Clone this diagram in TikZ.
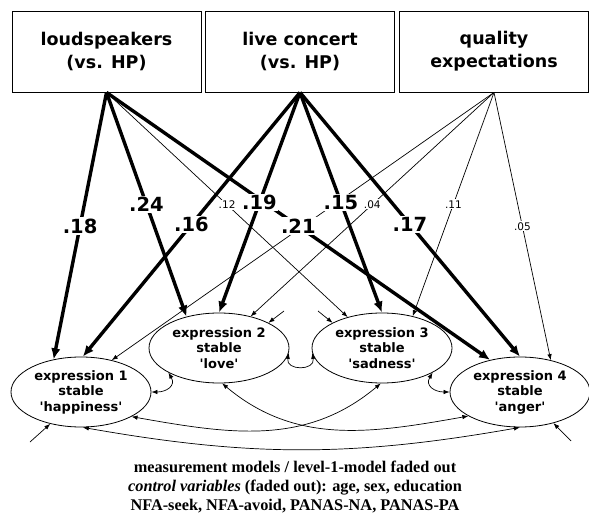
\documentclass[tikz,border=0pt]{standalone}
\usepackage{fontspec}
\setmainfont{Liberation Serif}
\newfontfamily\verdfont{DejaVu Sans}
\usetikzlibrary{arrows.meta,shapes.geometric}

\tikzset{
  BoxStyle/.style={draw,line width=0.9pt,minimum width=189pt,minimum height=81pt,
    align=center,font=\verdfont\bfseries\fontsize{17.5}{23}\selectfont},
  LatentStyle/.style={draw,ellipse,line width=0.8pt,minimum width=140pt,minimum height=70pt,
    inner sep=0pt,align=center,font=\verdfont\bfseries\fontsize{13}{15.5}\selectfont},
  PathThick/.style={line width=3.4pt,-{Latex[length=11pt,width=9.5pt]}},
  PathThin/.style={line width=0.7pt,-{Latex[length=6pt,width=4.5pt]}},
  LabThick/.style={fill=white,inner sep=1.5pt,font=\verdfont\bfseries\fontsize{19.5}{19.5}\selectfont},
  LabThin/.style={fill=white,inner sep=1pt,font=\verdfont\fontsize{10.5}{10.5}\selectfont},
  CovStyle/.style={line width=0.7pt,{Latex[length=6pt,width=4.5pt]}-{Latex[length=6pt,width=4.5pt]}}
}

\begin{document}
\begin{tikzpicture}[x=1pt,y=1pt]
  \useasboundingbox (0,0) rectangle (589,-529);
  % predictors
  \node[BoxStyle] (L) at (106.5,-51.5) {loudspeakers\\(vs. HP)};
  \node[BoxStyle] (C) at (300,-51.5) {live concert\\(vs. HP)};
  \node[BoxStyle] (Q) at (494,-51.5) {quality\\expectations};
  % latent expressions
  \node[LatentStyle] (E1) at (81,-392) {expression 1\\stable\\'happiness'};
  \node[LatentStyle] (E2) at (219,-348) {expression 2\\stable\\'love'};
  \node[LatentStyle] (E3) at (382,-348) {expression 3\\stable\\'sadness'};
  \node[LatentStyle] (E4) at (520,-392) {expression 4\\stable\\'anger'};
  % residuals
  \coordinate (r1) at (30,-442);
  \coordinate (r2) at (284,-311);
  \coordinate (r3) at (318,-311);
  \coordinate (r4) at (571,-441);
  \draw[PathThin] (r1) -- (E1.226);
  \draw[PathThin] (r2) -- (E2.27);
  \draw[PathThin] (r3) -- (E3.153);
  \draw[PathThin] (r4) -- (E4.-43);
  % paths
  \draw[PathThin] (Q.south) -- (E1.46);
  \foreach \src/\dst/\kind/\lab in {L/E1.130/Thick/.18, L/E2.136/Thick/.24, L/E3.138/Thin/.12,
      L/E4.133/Thick/.21, C/E1.87/Thick/.16, C/E2.90/Thick/.19, C/E3.90/Thick/.15,
      C/E4.90/Thick/.17, Q/E2.45/Thin/.04, Q/E3.46/Thin/.11, Q/E4.46/Thin/.05}
    \draw[Path\kind] (\src.south) -- (\dst);
  \foreach \src/\dst/\kind/\lab in {L/E1.130/Thick/.18, L/E2.136/Thick/.24, L/E3.138/Thin/.12,
      L/E4.133/Thick/.21, C/E1.87/Thick/.16, C/E2.90/Thick/.19, C/E3.90/Thick/.15,
      C/E4.90/Thick/.17, Q/E2.45/Thin/.04, Q/E3.46/Thin/.11, Q/E4.46/Thin/.05}
    \path (\src.south) -- (\dst) node[Lab\kind,pos=.5] {\lab};
  % covariances
  \draw[CovStyle] (E1.0) to[out=0,in=-60,looseness=1.5] (E2.206);
  \draw[CovStyle] (E2.-4) to[out=-100,in=-80,looseness=2] (E3.184);
  \draw[CovStyle] (E3.-26) to[out=-120,in=180,looseness=1.5] (E4.180);
  \draw[CovStyle] (E1.-26) to[out=-10,in=-140] (E3.268);
  \draw[CovStyle] (E2.-85) to[out=-40,in=190] (E4.205);
  \draw[CovStyle] (E1.-87) to[out=-10,in=190] (E4.270);
  % note
  \node[align=center,font=\bfseries\fontsize{16.3}{19}\selectfont] (note) at (295,-487)
    {measurement models / level-1-model faded out\\
     \textit{control variables} (faded out): age, sex, education\\
     NFA-seek, NFA-avoid, PANAS-NA, PANAS-PA};
\end{tikzpicture}
\end{document}
